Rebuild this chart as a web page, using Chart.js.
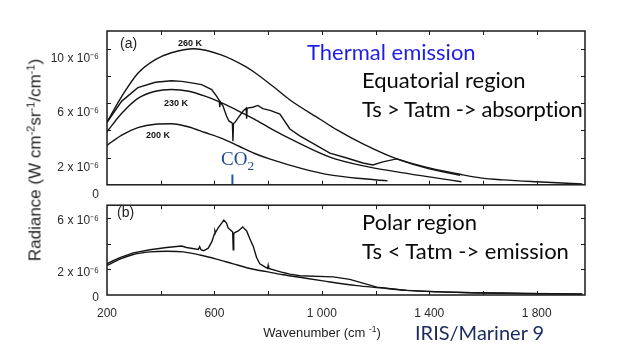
<!DOCTYPE html>
<html>
<head>
<meta charset="utf-8">
<script src="https://cdn.jsdelivr.net/npm/chart.js@4.4.0/dist/chart.umd.min.js"></script>
<style>
  html, body { margin: 0; padding: 0; background: #fff; }
  #wrap { position: relative; width: 623px; height: 364px; overflow: hidden; background: #fff; }
  canvas { position: absolute; left: 0; }
  .note { position: absolute; white-space: nowrap; line-height: 1; }
  .big { font-family: Lato, "Open Sans", sans-serif; font-size: 22px; color: #0a0a0a; }
  .temp { font-family: "Liberation Sans", Arial, sans-serif; font-weight: bold; font-size: 9px; color: #111; transform: translate(-50%, -50%); }
  .panel { font-family: "Liberation Sans", Arial, sans-serif; font-size: 14px; color: #222; }
  .axis { font-family: "Liberation Sans", Arial, sans-serif; color: #222; transform: translate(-50%, -50%); }
  sup { font-size: 0.65em; vertical-align: 0.55em; line-height: 0; }
</style>
</head>
<body>
<div id="wrap">
  <canvas id="chart-a" width="623" height="200" style="top:0"></canvas>
  <canvas id="chart-b" width="623" height="140" style="top:190px"></canvas>

  <div class="note panel" style="left:120px; top:36px;">(a)</div>
  <div class="note panel" style="left:117px; top:205px;">(b)</div>
  <div class="note temp" style="left:190px; top:43px;">260 K</div>
  <div class="note temp" style="left:176px; top:103px;">230 K</div>
  <div class="note temp" style="left:158px; top:135px;">200 K</div>

  <div class="note" style="left:221px; top:149px; font-family:'Liberation Serif',serif; font-size:19px; color:#1f4a8c;">CO<sub style="font-size:0.7em; line-height:0;">2</sub></div>

  <div class="note big" style="left:307px; top:41px; color:#1e1ee8;">Thermal emission</div>
  <div class="note big" style="left:362px; top:69px;">Equatorial region</div>
  <div class="note big" style="left:362px; top:98px; letter-spacing:-0.25px;">Ts &gt; Tatm -&gt; absorption</div>
  <div class="note big" style="left:362px; top:211px;">Polar region</div>
  <div class="note big" style="left:362px; top:240px;">Ts &lt; Tatm -&gt; emission</div>
  <div class="note big" style="left:415px; top:322px; font-size:20px; color:#1b2a5c;">IRIS/Mariner 9</div>

  <div class="note axis" style="left:35px; top:160px; font-size:17px; transform: translate(-50%, -50%) rotate(-90deg);">Radiance (W cm<sup>-2</sup>sr<sup>-1</sup>/cm<sup>-1</sup>)</div>
  <div class="note axis" style="left:322px; top:332px; font-size:13px;">Wavenumber (cm <sup>-1</sup>)</div>
</div>

<script>
// radiance in units of 1e-6 W cm-2 sr-1 / cm-1, wavenumber in cm-1
const xTickValues = [200, 400, 600, 800, 1000, 1200, 1400, 1600, 1800];
const xTickLabels = ['200', '', '600', '', '1 000', '', '1 400', '', '1 800'];
const yTickValuesA = [0, 2, 4, 6, 8, 10];
const yTickLabelsA = ['0', '2 x 10⁻⁶', '', '6 x 10⁻⁶', '', '10 x 10⁻⁶'];
const yTickValuesB = [0, 2, 4, 6];
const yTickLabelsB = ['0', '2 x 10⁻⁶', '', '6 x 10⁻⁶'];

// (a) equatorial: blackbody reference curves
const wn260 = [200, 255, 315, 380, 440, 525, 625, 715, 750, 820, 880, 995, 1055, 1155, 1280, 1400, 1525, 1590, 1675, 1800, 1970];
const rad260 = [4.6, 6.5, 8.2, 9.2, 9.7, 10.0, 9.55, 8.7, 8.25, 7.2, 6.25, 4.8, 4.05, 2.99, 1.9, 1.24, 0.73, 0.51, 0.36, 0.22, 0.07];
const wn230 = [200, 255, 315, 380, 440, 505, 565, 625, 690, 750, 815, 900, 1030, 1155, 1280, 1400, 1520];
const rad230 = [3.9, 5.25, 6.35, 6.87, 7.0, 6.87, 6.51, 6.03, 5.42, 4.81, 4.08, 3.21, 2.04, 1.39, 0.95, 0.58, 0.22];
const wn200 = [200, 255, 315, 380, 440, 505, 565, 625, 690, 750, 805, 930, 1030, 1155, 1245];
const rad200 = [2.9, 3.65, 4.2, 4.45, 4.48, 4.25, 3.84, 3.43, 2.85, 2.3, 1.9, 1.17, 0.73, 0.44, 0.29];

// (a) equatorial: measured spectrum
const wnEq = [200, 255, 315, 380, 440, 478, 515, 552, 590, 608, 618, 620, 622, 632, 645, 654, 664, 667, 669, 671, 676, 689, 707, 718, 720, 722, 743, 762, 780, 807, 844, 881, 918, 1030, 1093, 1153, 1190, 1227, 1279, 1340, 1400, 1460, 1515];
const radEq = [4.59, 6.15, 7.14, 7.53, 7.65, 7.6, 7.49, 7.36, 7.0, 6.51, 6.2, 5.7, 6.1, 5.78, 5.05, 4.69, 4.57, 4.5, 3.2, 4.5, 4.57, 4.94, 5.42, 5.62, 4.85, 5.64, 5.7, 5.83, 5.6, 5.47, 5.2, 4.1, 3.6, 2.33, 1.97, 1.6, 1.46, 1.68, 1.9, 1.5, 1.17, 0.92, 0.7];

// CO2 band centre marker
const co2Wn = [667, 667];
const co2Rad = [0, 0.75];

// (b) polar: blackbody reference curve
const wnPolBB = [200, 248, 298, 360, 422, 484, 546, 608, 670, 732, 794, 856, 918, 1005, 1130, 1215, 1315, 1440, 1560, 1750, 1970];
const radPolBB = [2.3, 2.8, 3.16, 3.36, 3.41, 3.36, 3.12, 2.8, 2.43, 2.07, 1.82, 1.58, 1.38, 1.1, 0.73, 0.56, 0.36, 0.24, 0.17, 0.12, 0.07];

// (b) polar: measured spectrum
const wnPol = [200, 223, 248, 298, 360, 422, 478, 496, 540, 545, 550, 560, 577, 590, 600, 602, 604, 614, 627, 635, 645, 651, 664, 668, 670, 672, 676, 689, 705, 720, 732, 745, 757, 769, 788, 798, 800, 802, 856, 881, 918, 1042, 1104, 1205, 1316, 1440, 1560, 1750, 1970];
const radPol = [2.43, 2.68, 2.92, 3.28, 3.53, 3.7, 3.82, 3.7, 3.55, 3.77, 3.53, 3.45, 3.65, 4.14, 4.75, 5.0, 4.87, 5.23, 5.6, 5.84, 5.6, 5.23, 4.99, 4.9, 3.53, 4.8, 4.87, 4.99, 5.31, 4.99, 4.38, 3.77, 2.92, 2.43, 2.19, 2.07, 2.3, 2.07, 1.75, 1.63, 1.5, 1.41, 1.22, 0.61, 0.36, 0.24, 0.17, 0.12, 0.08];

const X_MIN = 200;
const X_MAX = 1980;
const INK = '#141414';

function pts(xs, ys) {
    return xs.map((x, i) => ({ x: x, y: ys[i] }));
}

function curve(xs, ys, smooth) {
    return {
        data: pts(xs, ys),
        borderColor: INK,
        borderWidth: 1.4,
        pointRadius: 0,
        fill: false,
        tension: smooth ? 0.4 : 0,
        cubicInterpolationMode: smooth ? 'monotone' : 'default'
    };
}

// frame + inward tick marks on all four sides, placed through the scales
const frameTicks = {
    id: 'frameTicks',
    afterDatasetsDraw(chart) {
        const { ctx, chartArea: a, scales: { x, y } } = chart;
        ctx.save();
        ctx.strokeStyle = '#1a1a1a';
        ctx.lineWidth = 1;
        ctx.beginPath();
        x.ticks.forEach(t => {
            const px = Math.round(x.getPixelForValue(t.value)) + 0.5;
            if (px <= a.left + 1) return;
            ctx.moveTo(px, a.bottom); ctx.lineTo(px, a.bottom - 4);
            ctx.moveTo(px, a.top); ctx.lineTo(px, a.top + 4);
        });
        y.ticks.forEach(t => {
            const py = Math.round(y.getPixelForValue(t.value)) + 0.5;
            if (py >= a.bottom - 1) return;
            ctx.moveTo(a.left, py); ctx.lineTo(a.left + 4, py);
            ctx.moveTo(a.right, py); ctx.lineTo(a.right - 4, py);
        });
        ctx.stroke();
        ctx.lineWidth = 1.5;
        ctx.strokeRect(a.left, a.top, a.width, a.height);
        ctx.restore();
    }
};

const tickFont = { family: '"Liberation Sans", Arial, sans-serif', size: 12 };

function yScale(max, values, labels, offset) {
    return {
        type: 'linear',
        min: 0,
        max: max,
        afterBuildTicks: s => { s.ticks = values.map(v => ({ value: v })); },
        afterFit: s => { s.width = 107; },
        grid: { display: false, drawTicks: false },
        border: { display: false },
        ticks: {
            padding: 8,
            labelOffset: offset,
            color: '#2a2a2a',
            font: tickFont,
            autoSkip: false,
            callback: (v, i) => labels[i]
        }
    };
}

new Chart(document.getElementById('chart-a'), {
    type: 'line',
    data: {
        datasets: [
            curve(wn260, rad260, true),
            curve(wn230, rad230, true),
            curve(wn200, rad200, true),
            curve(wnEq, radEq, false),
            { data: pts(co2Wn, co2Rad), borderColor: '#2456a8', borderWidth: 2, pointRadius: 0 }
        ]
    },
    options: {
        responsive: false,
        animation: false,
        layout: { padding: { left: 0, top: 31, right: 38, bottom: 14 } },
        plugins: { legend: { display: false }, tooltip: { enabled: false } },
        scales: {
            x: {
                type: 'linear', min: X_MIN, max: X_MAX, display: false,
                afterBuildTicks: s => { s.ticks = xTickValues.map(v => ({ value: v })); }
            },
            y: yScale(11.3, yTickValuesA, yTickLabelsA, 10)
        }
    },
    plugins: [frameTicks]
});

new Chart(document.getElementById('chart-b'), {
    type: 'line',
    data: {
        datasets: [
            curve(wnPolBB, radPolBB, true),
            curve(wnPol, radPol, false)
        ]
    },
    options: {
        responsive: false,
        animation: false,
        layout: { padding: { left: 0, top: 9, right: 38, bottom: 0 } },
        plugins: { legend: { display: false }, tooltip: { enabled: false } },
        scales: {
            x: {
                type: 'linear', min: X_MIN, max: X_MAX,
                afterBuildTicks: s => { s.ticks = xTickValues.map(v => ({ value: v })); },
                afterFit: s => { s.height = 35; },
                grid: { display: false, drawTicks: false },
                border: { display: false },
                ticks: {
                    padding: 11,
                    color: '#2a2a2a',
                    font: tickFont,
                    autoSkip: false,
                    maxRotation: 0,
                    minRotation: 0,
                    callback: (v, i) => xTickLabels[i]
                }
            },
            y: yScale(7.0, yTickValuesB, yTickLabelsB, 3)
        }
    },
    plugins: [frameTicks]
});
</script>
</body>
</html>
